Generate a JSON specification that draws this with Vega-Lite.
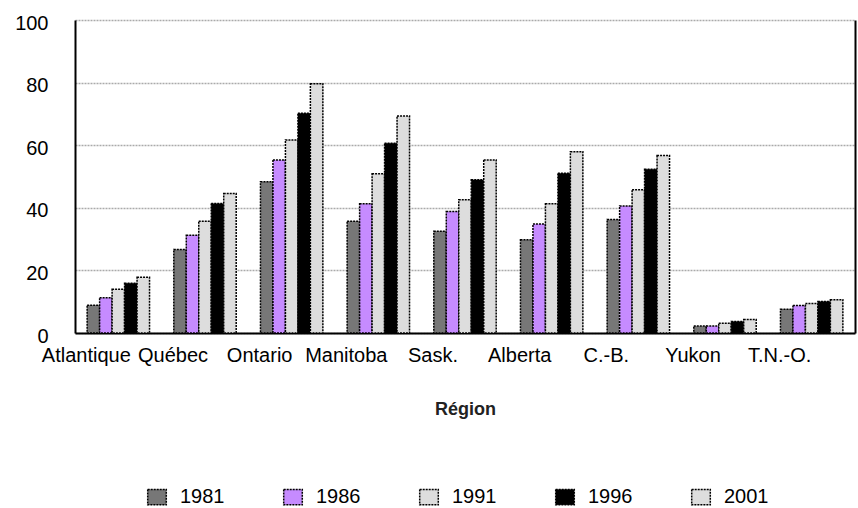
{
  "$schema": "https://vega.github.io/schema/vega-lite/v6.json",
  "width": 780,
  "height": 313,
  "autosize": {"type": "none"},
  "padding": {"left": 75, "top": 20, "right": 3, "bottom": 175},
  "config": {"view": {"stroke": null}, "font": "Liberation Sans"},
  "data": {
    "values": [
      {"region": "Atlantique", "year": "1981", "value": 8.9},
      {"region": "Atlantique", "year": "1986", "value": 11.3},
      {"region": "Atlantique", "year": "1991", "value": 14.0},
      {"region": "Atlantique", "year": "1996", "value": 15.9},
      {"region": "Atlantique", "year": "2001", "value": 17.8},
      {"region": "Québec", "year": "1981", "value": 26.7},
      {"region": "Québec", "year": "1986", "value": 31.2},
      {"region": "Québec", "year": "1991", "value": 35.7},
      {"region": "Québec", "year": "1996", "value": 41.4},
      {"region": "Québec", "year": "2001", "value": 44.6},
      {"region": "Ontario", "year": "1981", "value": 48.3},
      {"region": "Ontario", "year": "1986", "value": 55.3},
      {"region": "Ontario", "year": "1991", "value": 61.7},
      {"region": "Ontario", "year": "1996", "value": 70.2},
      {"region": "Ontario", "year": "2001", "value": 79.6},
      {"region": "Manitoba", "year": "1981", "value": 35.7},
      {"region": "Manitoba", "year": "1986", "value": 41.3},
      {"region": "Manitoba", "year": "1991", "value": 50.9},
      {"region": "Manitoba", "year": "1996", "value": 60.6},
      {"region": "Manitoba", "year": "2001", "value": 69.3},
      {"region": "Sask.", "year": "1981", "value": 32.5},
      {"region": "Sask.", "year": "1986", "value": 38.8},
      {"region": "Sask.", "year": "1991", "value": 42.6},
      {"region": "Sask.", "year": "1996", "value": 49.0},
      {"region": "Sask.", "year": "2001", "value": 55.3},
      {"region": "Alberta", "year": "1981", "value": 29.8},
      {"region": "Alberta", "year": "1986", "value": 34.8},
      {"region": "Alberta", "year": "1991", "value": 41.3},
      {"region": "Alberta", "year": "1996", "value": 51.0},
      {"region": "Alberta", "year": "2001", "value": 57.9},
      {"region": "C.-B.", "year": "1981", "value": 36.3},
      {"region": "C.-B.", "year": "1986", "value": 40.6},
      {"region": "C.-B.", "year": "1991", "value": 45.8},
      {"region": "C.-B.", "year": "1996", "value": 52.3},
      {"region": "C.-B.", "year": "2001", "value": 56.7},
      {"region": "Yukon", "year": "1981", "value": 2.2},
      {"region": "Yukon", "year": "1986", "value": 2.2},
      {"region": "Yukon", "year": "1991", "value": 3.1},
      {"region": "Yukon", "year": "1996", "value": 3.7},
      {"region": "Yukon", "year": "2001", "value": 4.3},
      {"region": "T.N.-O.", "year": "1981", "value": 7.6},
      {"region": "T.N.-O.", "year": "1986", "value": 8.8},
      {"region": "T.N.-O.", "year": "1991", "value": 9.4},
      {"region": "T.N.-O.", "year": "1996", "value": 10.1},
      {"region": "T.N.-O.", "year": "2001", "value": 10.6}
    ]
  },
  "encoding": {
    "x": {
      "field": "region",
      "type": "nominal",
      "sort": ["Atlantique", "Québec", "Ontario", "Manitoba", "Sask.", "Alberta", "C.-B.", "Yukon", "T.N.-O."],
      "scale": {"paddingInner": 0.28, "paddingOuter": 0.14},
      "axis": {
        "labelAngle": 0,
        "labelFontSize": 20,
        "labelColor": "#000000",
        "labelOffset": -32,
        "labelPadding": 12,
        "ticks": false,
        "domainColor": "#000000",
        "domainWidth": 2,
        "title": "Région",
        "titleFontSize": 18,
        "titleFontWeight": "bold",
        "titleColor": "#222222",
        "titlePadding": 35
      }
    },
    "xOffset": {"field": "year", "type": "nominal", "sort": ["1981", "1986", "1991", "1996", "2001"]}
  },
  "layer": [
    {
      "mark": {"type": "bar", "stroke": "#000000", "strokeDash": [2, 1], "strokeWidth": 1.5},
      "encoding": {
        "y": {
          "field": "value",
          "type": "quantitative",
          "scale": {"domain": [0, 100]},
          "axis": {
            "values": [0, 20, 40, 60, 80, 100],
            "grid": true,
            "gridColor": "#aaaaaa",
            "gridDash": [2, 1],
            "gridWidth": 1.5,
            "ticks": false,
            "domainColor": "#000000",
            "domainWidth": 2,
            "labelFontSize": 20,
            "labelColor": "#000000",
            "labelPadding": 27,
            "labelOffset": 3,
            "title": null
          }
        },
        "color": {
          "field": "year",
          "type": "nominal",
          "sort": ["1981", "1986", "1991", "1996", "2001"],
          "scale": {"range": ["#777777", "#c68bff", "#dddddd", "#000000", "#dddddd"]},
          "legend": {
            "orient": "none",
            "legendX": 72,
            "legendY": 467,
            "direction": "horizontal",
            "title": null,
            "symbolType": "M-1.2,-1L1.2,-1L1.2,1L-1.2,1Z",
            "symbolSize": 240,
            "symbolStrokeColor": "#000000",
            "symbolStrokeWidth": 1.5,
            "symbolDash": [2, 1],
            "symbolOpacity": 1,
            "labelFontSize": 20,
            "labelColor": "#000000",
            "labelOffset": 13,
            "columnPadding": 55
          }
        }
      }
    },
    {
      "mark": {"type": "bar", "opacity": 0},
      "encoding": {
        "y": {
          "field": "value",
          "type": "quantitative",
          "axis": {
            "orient": "right",
            "labels": false,
            "ticks": false,
            "grid": false,
            "domainColor": "#000000",
            "domainWidth": 2,
            "title": null
          }
        }
      }
    }
  ],
  "resolve": {"axis": {"y": "independent"}}
}
